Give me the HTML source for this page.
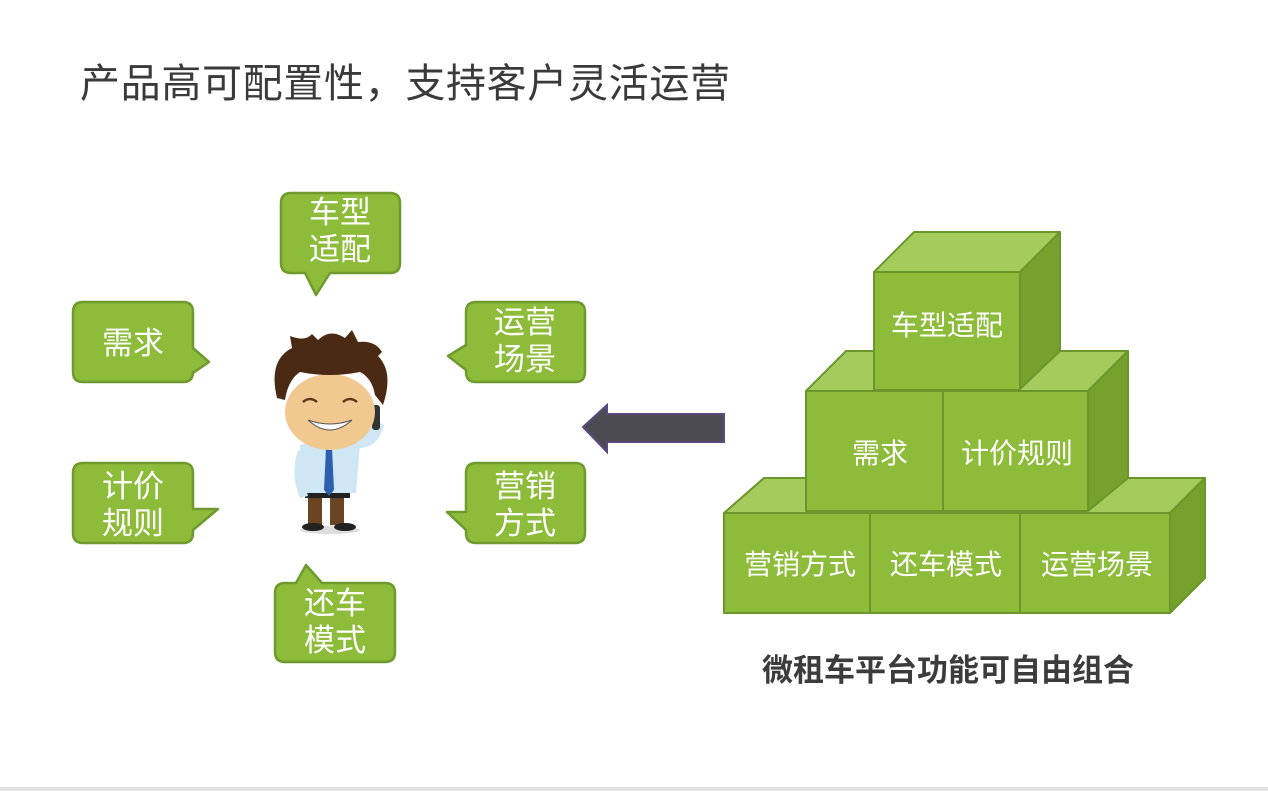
<!DOCTYPE html>
<html><head><meta charset="utf-8"><style>
html,body{margin:0;padding:0;background:#fff;}
svg{display:block;}
text{font-family:"Liberation Sans","Noto Sans CJK SC",sans-serif;}
</style></head><body>
<svg width="1268" height="791" viewBox="0 0 1268 791" xmlns="http://www.w3.org/2000/svg">
<rect width="1268" height="791" fill="#fff"/>
<text x="80" y="97" font-size="40" fill="#3a3a3a" textLength="650" lengthAdjust="spacing">产品高可配置性，支持客户灵活运营</text>

<g fill="#8dbb3a" stroke="#6e9a2e" stroke-width="2.5" stroke-linejoin="round">
<path d="M83 302 H183 Q193 302 193 312 V348 L209 362 L193 373 V372 Q193 382 183 382 H83 Q73 382 73 372 V312 Q73 302 83 302Z"/>
<path d="M83 463 H183 Q193 463 193 473 V509 H218 L193 530 V533 Q193 543 183 543 H83 Q73 543 73 533 V473 Q73 463 83 463Z"/>
<path d="M291 193 H390 Q400 193 400 203 V263 Q400 273 390 273 H330 L316 295 L305 273 H291 Q281 273 281 263 V203 Q281 193 291 193Z"/>
<path d="M476 302 H575 Q585 302 585 312 V372 Q585 382 575 382 H476 Q466 382 466 372 V370 L448 356 L466 345 V312 Q466 302 476 302Z"/>
<path d="M476 463 H575 Q585 463 585 473 V533 Q585 543 575 543 H476 Q466 543 466 533 V530 L447 512 H466 V473 Q466 463 476 463Z"/>
<path d="M285 583 H296 L306 565 L322 583 H385 Q395 583 395 593 V652 Q395 662 385 662 H285 Q275 662 275 652 V593 Q275 583 285 583Z"/>
</g>
<g fill="#fff" font-size="31" text-anchor="middle">
<text x="133" y="354">需求</text>
<text x="133" y="497">计价</text><text x="133" y="534">规则</text>
<text x="340" y="223">车型</text><text x="340" y="260">适配</text>
<text x="525" y="333">运营</text><text x="525" y="370">场景</text>
<text x="525" y="497">营销</text><text x="525" y="534">方式</text>
<text x="335" y="614">还车</text><text x="335" y="651">模式</text>
</g>

<!-- person -->
<g>
<ellipse cx="330" cy="530" rx="30" ry="4" fill="#ddd"/>
<rect x="308" y="495" width="14" height="30" fill="#6b4422"/>
<rect x="330" y="495" width="14" height="30" fill="#6b4422"/>
<ellipse cx="313" cy="527" rx="11" ry="4" fill="#222"/>
<ellipse cx="345" cy="527" rx="11" ry="4" fill="#222"/>
<rect x="305" y="490" width="45" height="8" fill="#222"/>
<path d="M300 445 Q330 435 360 445 L356 493 H304Z" fill="#cfe6f5"/>
<path d="M355 448 Q378 450 384 425 L372 418 Q368 440 355 440Z" fill="#cfe6f5"/>
<path d="M298 450 Q290 475 300 498 L308 496 Q302 475 306 452Z" fill="#cfe6f5"/>
<path d="M326 448 H332 L334 490 L329 496 L324 490Z" fill="#2c5fb0"/>
<rect x="372" y="405" width="8" height="25" rx="3" fill="#333"/>
<ellipse cx="330" cy="412" rx="45" ry="38" fill="#f2c891"/>
<path d="M277 398 Q268 360 292 348 L290 336 Q305 342 312 334 L318 340 Q330 328 345 338 L352 330 L358 342 Q375 340 382 352 L378 356 Q394 372 383 405 L375 395 Q372 378 360 372 Q330 378 300 372 Q288 380 285 400Z" fill="#4a2a12"/>
<path d="M303 402 Q310 396 317 402 M343 402 Q350 396 357 402" stroke="#5a3a1a" stroke-width="2.5" fill="none"/>
<path d="M308 420 Q330 440 352 420 Q330 428 308 420Z" fill="#fff" stroke="#555" stroke-width="1"/>
</g>

<path d="M583 427 L607 405 V414 H724 V442 H607 V452Z" fill="#4d4b52" stroke="#5a4a80" stroke-width="2"/>

<g stroke="#6a962c" stroke-width="2" stroke-linejoin="round">
<path d="M724 513 L764 478 H1205 L1170 513Z" fill="#a4cb5c"/>
<path d="M1170 513 L1205 478 V578 L1170 613Z" fill="#75a12d"/>
<rect x="724" y="513" width="146" height="100" fill="#8dbb3a"/>
<rect x="870" y="513" width="150" height="100" fill="#8dbb3a"/>
<rect x="1020" y="513" width="150" height="100" fill="#8dbb3a"/>
<path d="M806 391 L846 351 H1128 L1088 391Z" fill="#a4cb5c"/>
<path d="M1088 391 L1128 351 V478 L1088 511Z" fill="#75a12d"/>
<rect x="806" y="391" width="137" height="120" fill="#8dbb3a"/>
<rect x="943" y="391" width="145" height="120" fill="#8dbb3a"/>
<path d="M874 272 L914 232 H1060 L1020 272Z" fill="#a4cb5c"/>
<path d="M1020 272 L1060 232 V351 L1020 389Z" fill="#75a12d"/>
<rect x="874" y="272" width="146" height="118" fill="#8dbb3a"/>
</g>
<g fill="#fff" font-size="28" text-anchor="middle">
<text x="947" y="335">车型适配</text>
<text x="880" y="463">需求</text>
<text x="1017" y="463">计价规则</text>
<text x="800" y="574">营销方式</text>
<text x="946" y="574">还车模式</text>
<text x="1097" y="574">运营场景</text>
</g>
<text x="948" y="681" font-size="31" font-weight="bold" fill="#3c3c3c" text-anchor="middle">微租车平台功能可自由组合</text>
<rect x="0" y="787" width="1268" height="4" fill="#e2e2e2"/>
</svg>
</body></html>
